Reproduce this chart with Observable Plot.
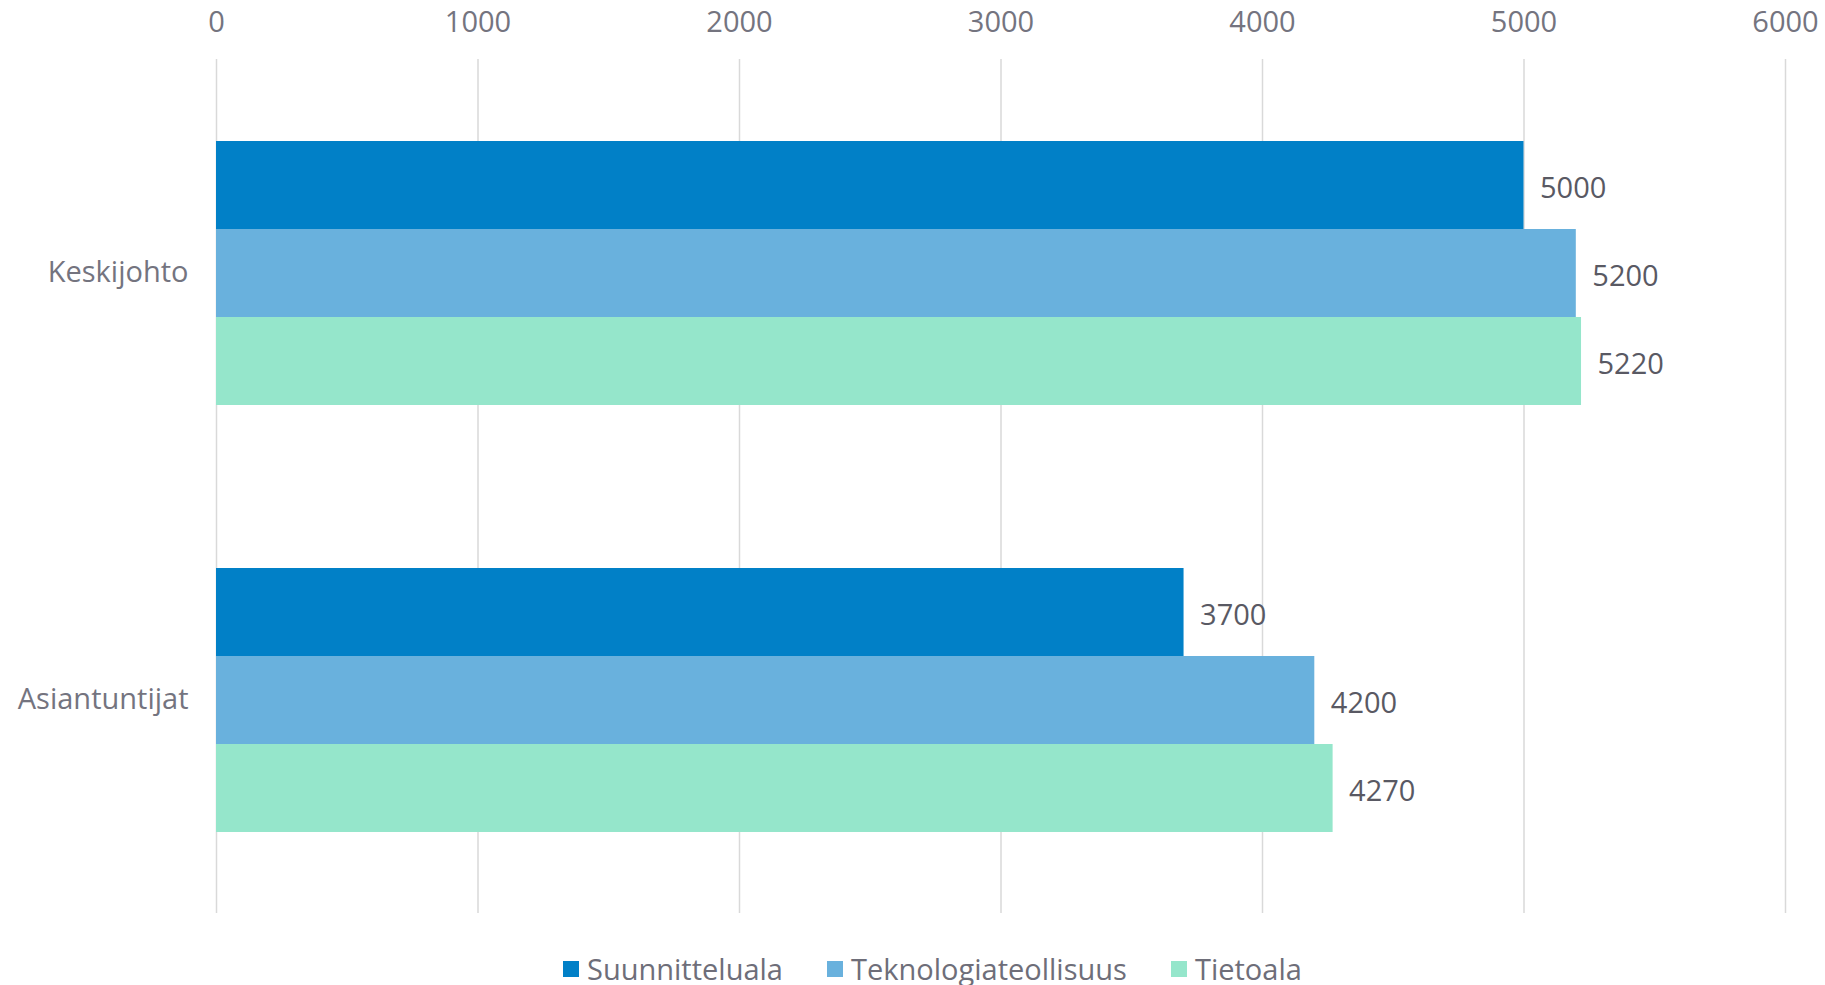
<!DOCTYPE html>
<html>
<head>
<meta charset="utf-8">
<script src="https://cdn.jsdelivr.net/npm/d3@7"></script>
<script src="https://cdn.jsdelivr.net/npm/@observablehq/plot@0.6"></script>
<style>
  html, body { margin: 0; padding: 0; background: #fff; }
  body { width: 1825px; height: 985px; position: relative; overflow: hidden; font-family: "Open Sans", Lato, sans-serif; }
  #legend { position: absolute; top: 949px; left: 563px; display: flex; align-items: center; font-size: 29px; color: #6e6e79; }
  .item { display: flex; align-items: center; margin-right: 44px; }
  .sw { width: 16px; height: 16px; margin-right: 8px; }
</style>
</head>
<body>
<div id="chart"></div>
<div id="legend"></div>
<script>
const categories = ["Keskijohto", "Asiantuntijat"];
const series = ["Suunnitteluala", "Teknologiateollisuus", "Tietoala"];
const suunnitteluala = [5000, 3700];
const teknologiateollisuus = [5200, 4200];
const tietoala = [5220, 4270];
const xTicks = [0, 1000, 2000, 3000, 4000, 5000, 6000];
const colors = ["#0180C7", "#69B1DD", "#95E6CB"];

const valuesBySeries = [suunnitteluala, teknologiateollisuus, tietoala];
const data = [];
categories.forEach((c, i) => {
  series.forEach((s, j) => {
    data.push({category: c, series: s, value: valuesBySeries[j][i]});
  });
});

const chart = Plot.plot({
  width: 1825,
  height: 935,
  marginTop: 59,
  marginBottom: 22,
  marginLeft: 216,
  marginRight: 40,
  style: {fontFamily: "'Open Sans', Lato, sans-serif", background: "#fff"},
  x: {domain: [0, 6000]},
  y: {domain: series, paddingInner: 0, paddingOuter: 0.918, axis: null},
  fy: {domain: categories, padding: 0},
  color: {domain: series, range: colors},
  marks: [
    Plot.gridX(xTicks, {stroke: "#d9d9d9", strokeOpacity: 1, strokeWidth: 1.5}),
    Plot.barX(data, {fy: "category", y: "series", x: "value", fill: "series"}),
    Plot.text(data, {fy: "category", y: "series", x: "value", text: d => String(d.value), textAnchor: "start", dx: 16, dy: 3, fontSize: 29, fill: "#595963"}),
    Plot.axisX(xTicks, {anchor: "top", tickSize: 0, tickPadding: 28, fontSize: 29, fill: "#74747f", label: null, tickFormat: d => String(d)}),
    Plot.axisFy({anchor: "left", tickSize: 0, tickPadding: 28, fontSize: 29, fill: "#74747f", label: null})
  ]
});
document.getElementById("chart").appendChild(chart);

const legend = document.getElementById("legend");
series.forEach((s, j) => {
  const item = document.createElement("div");
  item.className = "item";
  const sw = document.createElement("div");
  sw.className = "sw";
  sw.style.background = colors[j];
  const t = document.createElement("span");
  t.textContent = s;
  item.appendChild(sw);
  item.appendChild(t);
  legend.appendChild(item);
});
</script>
</body>
</html>
